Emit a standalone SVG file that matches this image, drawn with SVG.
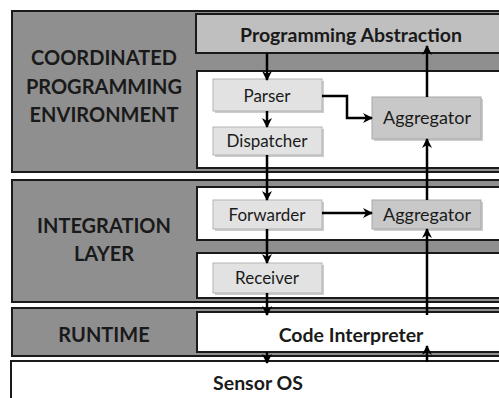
<svg xmlns="http://www.w3.org/2000/svg" width="499" height="398" viewBox="0 0 499 398">
<style>
.layer{fill:#8f8f8f;stroke:#1a1a1a;stroke-width:2}
.inner{fill:#ffffff;stroke:#1a1a1a;stroke-width:2}
.pa{fill:#bfbfbf;stroke:#1a1a1a;stroke-width:2}
.comp{fill:#e2e2e2;stroke:#b3b3b3;stroke-width:1}
.agg{fill:#c8c8c8;stroke:#a8a8a8;stroke-width:1}
.shadow{fill:#9a9a9a;opacity:0.5}
.lbl{font-family:Lato,"Liberation Sans",sans-serif;font-weight:bold;font-size:20px;fill:#1a1a1a;text-anchor:middle}
.bt{font-family:Lato,"Liberation Sans",sans-serif;font-weight:bold;font-size:19.5px;fill:#1a1a1a;text-anchor:middle}
.t{font-family:Lato,"Liberation Sans",sans-serif;font-size:17px;fill:#1a1a1a;text-anchor:middle}
.ta{font-family:Lato,"Liberation Sans",sans-serif;font-size:18px;fill:#1a1a1a;text-anchor:middle}
.c{fill:none;stroke:#000;stroke-width:2.5}
</style>
<defs>
<marker id="ah" viewBox="0 0 10 10" refX="9" refY="5" markerWidth="4" markerHeight="4" orient="auto" markerUnits="strokeWidth">
<path d="M0,0 L10,5 L0,10 L3,5 z" fill="#000"/>
</marker>
</defs>
<rect width="499" height="398" fill="#ffffff"/>

<g id="layer-cpe">
<rect class="layer" x="12" y="11" width="500" height="161"/>
<text class="lbl" x="104" y="65">COORDINATED</text>
<text class="lbl" x="104" y="94">PROGRAMMING</text>
<text class="lbl" x="104" y="122">ENVIRONMENT</text>
</g>
<g id="layer-integration">
<rect class="layer" x="12" y="180" width="500" height="122"/>
<text class="lbl" x="104" y="233">INTEGRATION</text>
<text class="lbl" x="104" y="261">LAYER</text>
</g>
<g id="layer-runtime">
<rect class="layer" x="12" y="308" width="500" height="48"/>
<text class="lbl" x="104" y="342">RUNTIME</text>
</g>
<g id="sensor-os">
<rect class="inner" x="11" y="361" width="500" height="50"/>
<text class="bt" x="258" y="390">Sensor OS</text>
</g>

<g id="programming-abstraction">
<rect class="pa" x="196" y="14" width="314" height="39"/>
<text class="bt" x="351" y="42">Programming Abstraction</text>
</g>
<g id="cpe-area">
<rect class="inner" x="197" y="71" width="313" height="97"/>
</g>
<g id="forwarder-area">
<rect class="inner" x="197" y="187" width="313" height="53"/>
</g>
<g id="receiver-area">
<rect class="inner" x="197" y="253" width="313" height="45"/>
</g>
<g id="code-interpreter">
<rect class="inner" x="197" y="312" width="313" height="40"/>
<text class="bt" x="351" y="342">Code Interpreter</text>
</g>

<g id="parser">
<rect class="shadow" x="215" y="81" width="109" height="32"/>
<rect class="comp" x="213" y="79" width="109" height="32"/>
<text class="t" x="267" y="102">Parser</text>
</g>
<g id="dispatcher">
<rect class="shadow" x="215" y="129" width="109" height="28"/>
<rect class="comp" x="213" y="127" width="109" height="28"/>
<text class="t" x="267" y="147">Dispatcher</text>
</g>
<g id="forwarder">
<rect class="shadow" x="215" y="202" width="109" height="29"/>
<rect class="comp" x="213" y="200" width="109" height="29"/>
<text class="t" x="267" y="221">Forwarder</text>
</g>
<g id="receiver">
<rect class="shadow" x="215" y="265" width="109" height="30"/>
<rect class="comp" x="213" y="263" width="109" height="30"/>
<text class="t" x="267" y="284">Receiver</text>
</g>
<g id="aggregator-1">
<rect class="shadow" x="374" y="99" width="109" height="42"/>
<rect class="agg" x="372" y="97" width="109" height="42"/>
<text class="ta" x="427" y="124">Aggregator</text>
</g>
<g id="aggregator-2">
<rect class="shadow" x="374" y="202" width="109" height="29"/>
<rect class="agg" x="372" y="200" width="109" height="29"/>
<text class="ta" x="427" y="221">Aggregator</text>
</g>

<g id="connectors">
<path class="c" d="M267,53 V80" marker-end="url(#ah)"/>
<path class="c" d="M267,111 V127" marker-end="url(#ah)"/>
<path class="c" d="M267,155 V200" marker-end="url(#ah)"/>
<path class="c" d="M267,229 V263" marker-end="url(#ah)"/>
<path class="c" d="M267,293 V315" marker-end="url(#ah)"/>
<path class="c" d="M267,352 V363" marker-end="url(#ah)"/>
<path class="c" d="M322,96 H347 V118 H372" marker-end="url(#ah)"/>
<path class="c" d="M322,213 H372" marker-end="url(#ah)"/>
<path class="c" d="M427,97 V46" marker-end="url(#ah)"/>
<path class="c" d="M427,200 V139" marker-end="url(#ah)"/>
<path class="c" d="M427,315 V229" marker-end="url(#ah)"/>
<path class="c" d="M427,362 V346" marker-end="url(#ah)"/>
</g>
</svg>
